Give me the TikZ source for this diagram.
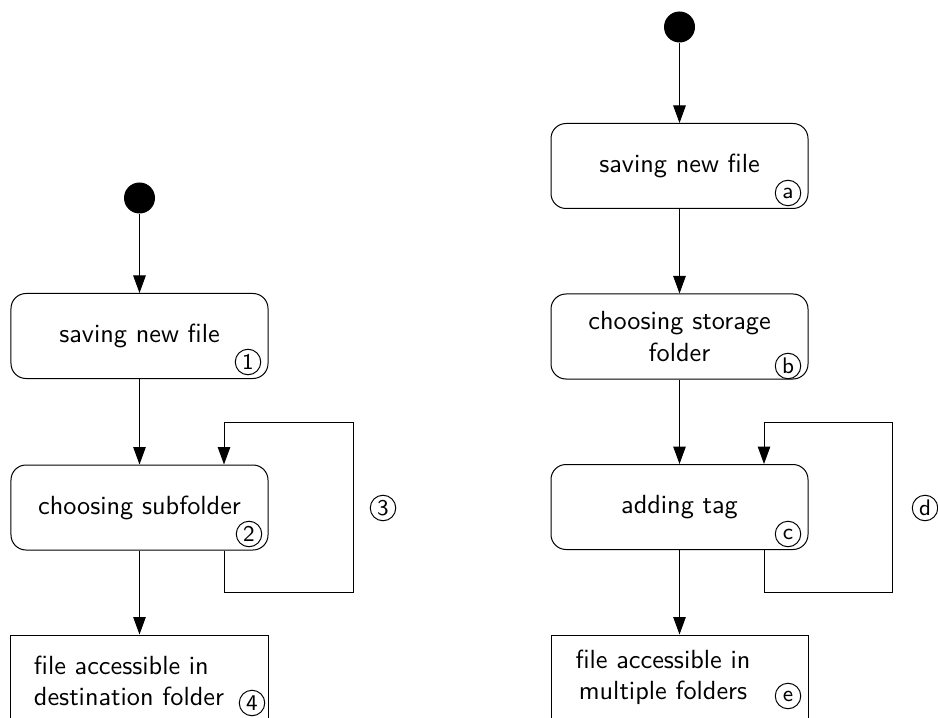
\documentclass[tikz,border=0pt]{standalone}
\usetikzlibrary{arrows.meta,calc}
\begin{document}
\begin{tikzpicture}[x=0.4pt,y=-0.4pt,
  txtfont/.style={font=\sffamily\fontsize{10.5}{12.5}\selectfont},
  state/.style={draw, rounded corners=6pt, minimum width=102.8pt, minimum height=34pt, inner sep=0pt, align=center, txtfont},
  endbox/.style={draw, minimum width=102.8pt, minimum height=40pt, inner sep=0pt},
  boxtext/.style={inner sep=0pt, txtfont},
  start/.style={circle, fill=black, minimum size=12.4pt, inner sep=0pt},
  arr/.style={-{Triangle[length=7pt,width=5pt]}},
  num/.style={circle, draw, inner sep=0pt, minimum size=10.2pt, font=\sffamily\fontsize{9}{10}\selectfont}]
\useasboundingbox (0,0) rectangle (938,718);
\clip (0,0) rectangle (938,718);

% left column
\node[start] (s1) at (139.5,198) {};
\node[state] (b1) at (139.5,336) {saving new file};
\node[state] (b2) at (139.5,507.5) {choosing subfolder};
\node[endbox] (b3) at (139.5,685) {};
\node[boxtext, align=left] (t3) at (129,681) {file accessible in\\destination folder};
\node[num] (n1) at (248,362) {1};
\node[num] (n2) at (249,534) {2};
\node[num] (n3) at (383,508) {3};
\node[num] (n4) at (252,703) {4};

\coordinate (lx) at (224,0);
\coordinate (lbot) at (353,592);
\coordinate (ltop) at (353,422);

\draw[arr] (s1) -- (b1);
\draw[arr] (b1) -- (b2);
\draw[arr] (b2) -- (b3);
\draw[arr] (b2.south -| lx) |- (lbot) -- (ltop) -| (b2.north -| lx);

% right column
\node[start] (sa) at (679.5,27) {};
\node[state] (ba) at (679.5,166) {saving new file};
\node[state] (bb) at (679.5,336.5) {choosing storage\\folder};
\node[state] (bc) at (679.5,507) {adding tag};
\node[endbox] (be) at (679.5,685) {};
\node[boxtext, align=center] (te) at (663,677) {file accessible in\\multiple folders};
\node[num] (na) at (788,193) {a};
\node[num] (nb) at (788,366) {b};
\node[num] (nc) at (788,534) {c};
\node[num] (nd) at (925,508) {d};
\node[num] (ne) at (788,696) {e};

\coordinate (rx) at (764,0);
\coordinate (rbot) at (892,592);
\coordinate (rtop) at (892,422);

\draw[arr] (sa) -- (ba);
\draw[arr] (ba) -- (bb);
\draw[arr] (bb) -- (bc);
\draw[arr] (bc) -- (be);
\draw[arr] (bc.south -| rx) |- (rbot) -- (rtop) -| (bc.north -| rx);
\end{tikzpicture}
\end{document}
